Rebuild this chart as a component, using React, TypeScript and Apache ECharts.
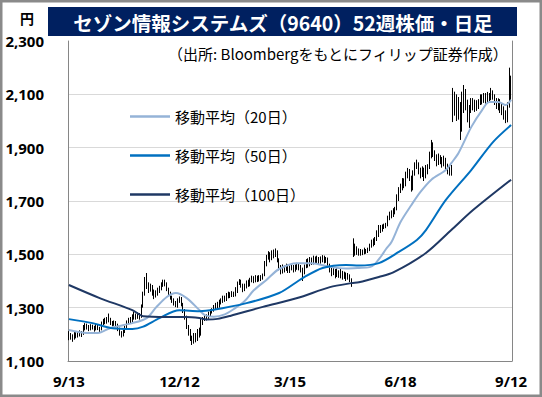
import React, { useEffect, useRef } from 'react';
import * as echarts from 'echarts';

// Daily candles: [open, close, low, high]
const candles: number[][] = [
  [1200,1190,1178,1212],[1190,1195,1180,1205],[1195,1185,1172,1200],[1185,1198,1180,1210],[1198,1192,1185,1208],
  [1192,1200,1188,1212],[1200,1205,1192,1215],[1205,1198,1190,1212],[1200,1225,1198,1235],[1225,1232,1215,1242],
  [1232,1228,1218,1240],[1228,1222,1212,1235],[1222,1230,1215,1238],[1230,1225,1218,1236],[1225,1220,1210,1232],
  [1220,1228,1215,1240],[1228,1224,1216,1235],[1224,1215,1205,1228],[1218,1240,1215,1248],[1240,1250,1235,1258],
  [1250,1245,1238,1262],[1245,1255,1240,1265],[1255,1262,1245,1278],[1258,1245,1235,1262],[1245,1238,1230,1250],
  [1238,1245,1232,1252],[1245,1235,1228,1250],[1235,1220,1212,1240],[1220,1205,1195,1225],[1205,1198,1188,1212],
  [1198,1210,1192,1218],[1210,1225,1205,1232],[1228,1245,1222,1252],[1245,1255,1238,1262],[1255,1250,1242,1265],
  [1250,1262,1245,1275],[1262,1270,1255,1285],[1270,1265,1255,1278],[1265,1272,1258,1282],[1272,1268,1255,1280],
  [1268,1300,1262,1312],[1305,1345,1300,1360],[1350,1400,1345,1415],[1400,1385,1370,1430],[1385,1370,1355,1395],
  [1370,1378,1360,1390],[1378,1360,1345,1385],[1360,1345,1332,1368],[1345,1355,1338,1365],[1355,1365,1345,1375],
  [1365,1372,1355,1382],[1372,1385,1365,1395],[1385,1395,1378,1405],[1395,1390,1380,1405],[1390,1370,1362,1395],
  [1370,1355,1345,1375],[1355,1340,1330,1360],[1340,1330,1318,1345],[1330,1320,1308,1335],[1320,1310,1302,1325],
  [1310,1325,1300,1335],[1325,1335,1318,1342],[1335,1315,1305,1340],[1315,1290,1280,1318],[1290,1265,1255,1295],
  [1265,1230,1220,1270],[1230,1210,1195,1235],[1210,1185,1175,1220],[1185,1175,1160,1195],[1175,1195,1165,1205],
  [1195,1180,1170,1205],[1180,1210,1175,1220],[1210,1200,1188,1225],[1200,1240,1195,1258],[1240,1255,1235,1265],
  [1255,1265,1250,1272],[1265,1262,1252,1275],[1262,1275,1258,1285],[1275,1285,1268,1295],[1285,1290,1278,1298],
  [1290,1300,1285,1310],[1300,1310,1292,1318],[1310,1305,1295,1322],[1305,1318,1300,1330],[1318,1325,1312,1335],
  [1325,1335,1318,1345],[1335,1330,1322,1345],[1330,1342,1325,1355],[1342,1350,1335,1360],[1350,1345,1336,1358],
  [1345,1352,1340,1362],[1352,1348,1340,1360],[1348,1360,1342,1377],[1362,1390,1355,1398],[1390,1400,1385,1407],
  [1400,1385,1375,1405],[1385,1370,1358,1390],[1370,1380,1362,1390],[1380,1395,1372,1402],[1395,1388,1378,1405],
  [1388,1400,1380,1412],[1400,1408,1395,1420],[1408,1402,1392,1418],[1402,1410,1395,1422],[1410,1405,1396,1420],
  [1405,1415,1398,1422],[1415,1410,1400,1422],[1410,1420,1405,1428],[1420,1460,1418,1475],[1460,1490,1455,1498],
  [1490,1500,1480,1512],[1500,1485,1470,1508],[1485,1505,1478,1515],[1505,1495,1485,1518],[1495,1510,1490,1522],
  [1510,1480,1470,1515],[1480,1450,1440,1485],[1450,1435,1425,1460],[1435,1450,1428,1462],[1450,1445,1432,1458],
  [1445,1455,1438,1465],[1455,1440,1430,1462],[1440,1448,1430,1458],[1448,1455,1440,1466],[1455,1442,1432,1460],
  [1442,1450,1435,1462],[1450,1460,1442,1468],[1460,1452,1440,1466],[1452,1445,1432,1460],[1445,1430,1400,1450],
  [1430,1455,1425,1462],[1455,1470,1448,1482],[1470,1462,1450,1485],[1462,1478,1455,1490],[1478,1470,1460,1488],
  [1470,1482,1462,1495],[1482,1475,1465,1492],[1475,1485,1466,1495],[1485,1472,1460,1490],[1472,1480,1465,1492],
  [1480,1488,1470,1497],[1488,1478,1466,1495],[1478,1482,1468,1490],[1482,1460,1450,1488],[1460,1445,1432,1465],
  [1445,1430,1418,1450],[1430,1440,1422,1448],[1440,1425,1410,1445],[1425,1435,1415,1448],[1435,1422,1412,1440],
  [1422,1430,1410,1445],[1430,1418,1405,1438],[1418,1428,1408,1435],[1428,1415,1400,1432],[1415,1420,1405,1430],
  [1420,1405,1396,1425],[1405,1395,1378,1410],[1495,1520,1490,1560],[1520,1505,1495,1540],[1505,1512,1498,1530],
  [1512,1500,1495,1522],[1500,1510,1495,1520],[1510,1505,1497,1518],[1505,1515,1500,1525],[1515,1510,1502,1520],
  [1510,1518,1505,1525],[1518,1530,1512,1540],[1530,1545,1525,1555],[1545,1540,1530,1560],[1540,1555,1535,1565],
  [1555,1575,1550,1590],[1575,1595,1565,1610],[1595,1590,1580,1610],[1590,1605,1585,1612],[1605,1600,1595,1615],
  [1600,1610,1598,1618],[1610,1635,1605,1645],[1635,1650,1628,1660],[1650,1645,1635,1665],[1645,1660,1640,1673],
  [1660,1668,1650,1678],[1668,1710,1665,1725],[1710,1735,1700,1752],[1735,1750,1730,1765],[1750,1770,1740,1786],
  [1770,1760,1748,1785],[1760,1795,1755,1810],[1795,1810,1785,1824],[1810,1790,1775,1820],[1790,1750,1735,1795],
  [1750,1800,1740,1815],[1800,1830,1795,1845],[1830,1840,1820,1855],[1840,1810,1800,1845],[1810,1800,1785,1825],
  [1800,1815,1790,1830],[1815,1795,1775,1825],[1795,1810,1785,1835],[1810,1825,1800,1838],[1825,1870,1820,1885],
  [1870,1900,1860,1929],[1900,1880,1865,1920],[1880,1860,1850,1890],[1860,1845,1830,1875],[1845,1862,1835,1878],
  [1862,1850,1838,1872],[1850,1840,1825,1865],[1840,1855,1830,1870],[1855,1830,1818,1862],[1830,1815,1800,1840],
  [1815,1825,1795,1835],[1825,1810,1795,1835],[2000,2080,1996,2124],[2080,2040,2020,2110],[2040,2060,2000,2100],
  [2060,2020,2005,2090],[2020,1970,1929,2071],[1970,2050,1960,2110],[2050,2100,2030,2135],[2100,2060,2040,2120],
  [2060,2010,1995,2080],[2010,2040,1974,2060],[2040,2070,2030,2086],[2070,2055,2040,2086],[2055,2065,2034,2080],
  [2065,2050,2038,2078],[2050,2070,2045,2082],[2070,2085,2060,2100],[2085,2075,2062,2100],[2075,2090,2068,2105],
  [2090,2080,2065,2105],[2080,2095,2070,2109],[2095,2085,2072,2105],[2085,2105,2078,2124],[2105,2095,2080,2115],
  [2095,2070,2060,2100],[2070,2060,2045,2086],[2060,2075,2040,2085],[2075,2050,2030,2082],[2050,2040,2022,2065],
  [2040,2020,2005,2055],[2020,2000,1992,2040],[2000,2060,1995,2070],[2060,2120,2050,2200],[2120,2100,2079,2170],
];

// Moving averages: [day index, value]
const ma20: number[][] = [
  [0,1216],[10,1205],[16,1205],[23,1224],[35,1242],[43,1261],[48,1300],[54,1340],[59,1355],[65,1336],
  [72,1291],[75,1272],[80,1266],[86,1275],[91,1295],[97,1325],[102,1365],[109,1404],[116,1445],[126,1467],
  [134,1467],[144,1453],[153,1447],[160,1449],[166,1452],[169,1465],[172,1490],[175,1520],[178,1546],[183,1621],
  [189,1685],[194,1734],[200,1780],[208,1816],[211,1842],[215,1880],[222,1977],[228,2041],[232,2071],[237,2071],
  [241,2060],[244,2079],
];
const ma50: number[][] = [
  [0,1257],[13,1242],[23,1224],[35,1220],[41,1229],[50,1261],[61,1290],[72,1287],[79,1291],[98,1317],
  [116,1355],[129,1411],[140,1449],[153,1460],[160,1458],[171,1467],[182,1509],[192,1554],[197,1591],[208,1704],
  [222,1816],[234,1921],[244,1985],
];
const ma100: number[][] = [
  [0,1385],[17,1336],[35,1291],[41,1268],[54,1265],[65,1265],[72,1261],[76,1256],[82,1258],[89,1269],
  [107,1303],[126,1336],[144,1377],[156,1392],[160,1395],[171,1415],[179,1432],[197,1505],[211,1591],[223,1666],
  [244,1780],
];

const seriesNames = ['移動平均（20日）', '移動平均（50日）', '移動平均（100日）'];
const maColors = ['#95B3D7', '#0070C0', '#1F3864'];
const tickLabels = ['9/13', '12/12', '3/15', '6/18', '9/12'];
const labelStep = 61;
const yMin = 1100;
const yMax = 2300;
const yStep = 200;
const titleText = 'セゾン情報システムズ（9640）52週株価・日足';
const sourceText = '（出所: Bloombergをもとにフィリップ証券作成）';
const unitText = '円';

export default function App() {
  const ref = useRef<HTMLDivElement>(null);
  useEffect(() => {
    if (!ref.current) return;
    const chart = echarts.init(ref.current, undefined, { renderer: 'svg' });
    const categories = candles.map((_, i) => String(i));
    const nLines = (yMax - yMin) / yStep + 1;
    const splitColors = Array.from({ length: nLines }, (_, i) => (i === nLines - 1 ? 'rgba(0,0,0,0)' : '#D9D9D9'));
    const mas = [ma20, ma50, ma100];
    chart.setOption({
      animation: false,
      backgroundColor: '#fff',
      grid: { left: 68, right: 30, top: 41, bottom: 36, containLabel: false },
      legend: {
        orient: 'vertical',
        left: 130,
        top: 109,
        padding: 0,
        itemWidth: 40,
        itemHeight: 2.5,
        itemGap: 24,
        icon: 'rect',
        data: seriesNames,
        textStyle: { fontSize: 15, color: '#000', fontFamily: 'Noto Sans CJK JP' },
      },
      xAxis: {
        type: 'category',
        data: categories,
        boundaryGap: true,
        axisLine: { lineStyle: { color: '#868686', width: 1 } },
        axisTick: { interval: labelStep - 1, alignWithLabel: true, length: 5, lineStyle: { color: '#868686' } },
        axisLabel: {
          interval: labelStep - 1,
          margin: 12,
          fontSize: 15,
          fontWeight: 'bold',
          color: '#000',
          fontFamily: 'Noto Sans',
          formatter: (_v: string, idx: number) => tickLabels[Math.round(idx / labelStep)] ?? '',
        },
        splitLine: { show: false },
      },
      yAxis: [
        {
          type: 'value',
          min: yMin,
          max: yMax,
          interval: yStep,
          axisLine: { show: true, lineStyle: { color: '#868686' } },
          axisTick: { show: false },
          axisLabel: {
            margin: 24,
            fontSize: 15,
            fontWeight: 'bold',
            color: '#000',
            fontFamily: 'Noto Sans',
            formatter: (v: number) => v.toLocaleString('en-US'),
          },
          splitLine: { show: true, lineStyle: { color: splitColors, width: 1 } },
        },
        {
          type: 'value',
          min: yMin,
          max: yMax,
          interval: yStep,
          position: 'right',
          axisLine: { show: true, lineStyle: { color: '#868686' } },
          axisTick: { show: false },
          axisLabel: { show: false },
          splitLine: { show: false },
        },
      ],
      series: [
        {
          type: 'candlestick',
          data: candles,
          barWidth: 1.3,
          itemStyle: {
            color: '#ffffff',
            color0: '#000000',
            borderColor: '#000000',
            borderColor0: '#000000',
            borderWidth: 1,
          },
          z: 2,
        },
        ...mas.map((d, k) => ({
          type: 'line',
          name: seriesNames[k],
          data: d,
          showSymbol: false,
          symbol: 'none',
          smooth: 0.3,
          lineStyle: { color: maColors[k], width: 2 },
          itemStyle: { color: maColors[k] },
          z: 3,
        })),
      ],
      graphic: [
        {
          type: 'rect',
          shape: { x: 1.25, y: 1.25, width: 539.5, height: 394.5 },
          style: { fill: 'none', stroke: '#8A8A8A', lineWidth: 2.5 },
          silent: true,
          z: 100,
        },
        {
          type: 'rect',
          shape: { x: 48, y: 7, width: 469, height: 29 },
          style: { fill: '#002060' },
          z: 10,
        },
        {
          type: 'text',
          x: 283,
          y: 22,
          style: {
            text: titleText,
            fill: '#fff',
            font: 'bold 19.5px "Noto Sans CJK JP"',
            textAlign: 'center',
            textVerticalAlign: 'middle',
          },
          z: 11,
        },
        {
          type: 'text',
          x: 27,
          y: 18,
          style: {
            text: unitText,
            fill: '#000',
            font: 'bold 14px "Noto Sans CJK JP"',
            textAlign: 'center',
            textVerticalAlign: 'middle',
          },
          z: 11,
        },
        {
          type: 'text',
          x: 168,
          y: 53,
          style: {
            text: sourceText,
            fill: '#000',
            font: '15px "Noto Sans CJK JP"',
            textAlign: 'left',
            textVerticalAlign: 'middle',
          },
          z: 11,
        },
      ],
    });
    return () => chart.dispose();
  }, []);
  return <div ref={ref} style={{ position: 'fixed', left: 0, top: 0, width: 542, height: 397 }} />;
}
